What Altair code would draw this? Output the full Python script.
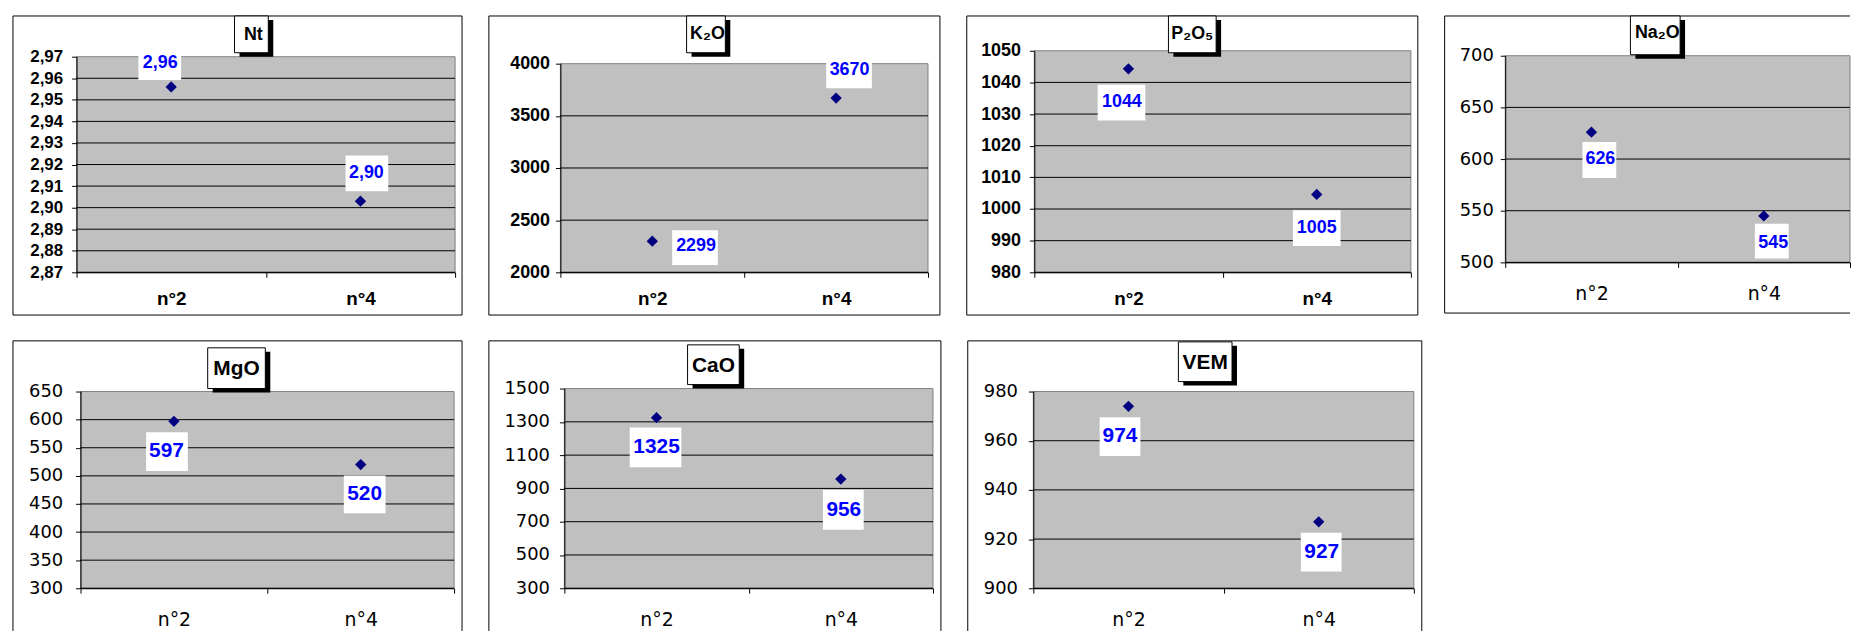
import altair as alt
import pandas as pd

# ---------------- data ----------------
samples = ["n°2", "n°4"]
nt = [2.956, 2.903]
k2o = [2299, 3670]
p2o5 = [1044.3, 1004.6]
na2o = [626, 545]
mgo = [597, 520]
cao = [1325, 956]
vem = [974, 927]

titles = ["Nt", "K₂O", "P₂O₅", "Na₂O", "MgO", "CaO", "VEM"]

nt_ticks = [2.87, 2.88, 2.89, 2.90, 2.91, 2.92, 2.93, 2.94, 2.95, 2.96, 2.97]
k2o_ticks = [2000, 2500, 3000, 3500, 4000]
p2o5_ticks = [980, 990, 1000, 1010, 1020, 1030, 1040, 1050]
na2o_ticks = [500, 550, 600, 650, 700]
mgo_ticks = [300, 350, 400, 450, 500, 550, 600, 650]
cao_ticks = [300, 500, 700, 900, 1100, 1300, 1500]
vem_ticks = [900, 920, 940, 960, 980]

# ---------------- styles ----------------
BOLD = dict(font="Liberation Sans", weight="bold")
REG = dict(font="DejaVu Sans", weight="normal")

# W,H: plot area; L,R,T,B: distance from plot area to the outer frame
panels = [
    dict(title=titles[0], values=nt, ticks=nt_ticks, W=381, H=217, L=64, R=7, T=41, B=43,
         yfont=BOLD, yfs=17, ypad=9, xfont=BOLD, xfs=19, xpad=12.5,
         tbox=(159, 193, -41, -4), tcx=178, tby=-17, tfs=18, lfs=18, comma=True,
         labels=[(-33, 10, -35, -7, -11, -19), (-15, 28, -46, -10, 6, -23)]),
    dict(title=titles[1], values=k2o, ticks=k2o_ticks, W=370, H=210, L=72, R=12, T=48, B=43,
         yfont=BOLD, yfs=18, ypad=6, xfont=BOLD, xfs=19, xpad=12.5,
         tbox=(127, 166, -48, -11), tcx=148, tby=-25, tfs=18, lfs=18,
         labels=[(20, 66, -11, 24, 44, 10), (-10, 36, -39, -10, 13.5, -23)]),
    dict(title=titles[2], values=p2o5, ticks=p2o5_ticks, W=379, H=223, L=68, R=7, T=35, B=43,
         yfont=BOLD, yfs=18, ypad=9, xfont=BOLD, xfs=19, xpad=12.5,
         tbox=(135, 183, -35, 2), tcx=159, tby=-12, tfs=18, lfs=18,
         labels=[(-31, 17, 16, 52, -6.6, 38.7), (-24, 24, 16, 52, 0, 39)]),
    dict(title=titles[3], values=na2o, ticks=na2o_ticks, W=347, H=208, L=61, R=None, T=40, B=51,
         yfont=REG, yfs=18, ypad=7, xfont=REG, xfs=19, xpad=17.8,
         tbox=(126, 176, -40, -1), tcx=153, tby=-18, tfs=18, lfs=18,
         labels=[(-9, 25, 10, 46, 9, 32), (-9, 25, 8, 43, 9.5, 32)]),
    dict(title=titles[4], values=mgo, ticks=mgo_ticks, W=376, H=198, L=68, R=8, T=51, B=None,
         yfont=REG, yfs=18, ypad=13, xfont=REG, xfs=19, xpad=17.5,
         tbox=(128, 186, -44, -3), tcx=157, tby=-17, tfs=21, lfs=21,
         labels=[(-28, 14, 11, 50, -7.5, 36), (-17, 25, 11, 49, 4, 36)]),
    dict(title=titles[5], values=cao, ticks=cao_ticks, W=371, H=201, L=76, R=8, T=48, B=None,
         yfont=REG, yfs=18, ypad=10, xfont=REG, xfs=19, xpad=17.5,
         tbox=(124, 176, -44, -4), tcx=150, tby=-17, tfs=21, lfs=21,
         labels=[(-27, 25, 10, 50, 0, 36), (-18, 23, 11, 51, 3, 37)]),
    dict(title=titles[6], values=vem, ticks=vem_ticks, W=383, H=198, L=66, R=8, T=51, B=None,
         yfont=REG, yfs=18, ypad=11, xfont=REG, xfs=19, xpad=17.5,
         tbox=(146, 200, -50, -10), tcx=173, tby=-23, tfs=21, lfs=21,
         labels=[(-29, 12, 11, 50, -8.5, 36), (-18, 23, 11, 50, 3, 36)]),
]

one = pd.DataFrame({"k": [0]})
FRAME = "#000000"
OPEN_BOTTOM = 43  # frame continues below the visible page for the lower row


def hrule(x0, x1, y):
    return alt.Chart(one).mark_rule(color=FRAME, strokeWidth=1).encode(
        x=alt.value(x0), x2=alt.value(x1), y=alt.value(y))


def vrule(x, y0, y1):
    return alt.Chart(one).mark_rule(color=FRAME, strokeWidth=1).encode(
        x=alt.value(x), y=alt.value(y0), y2=alt.value(y1))


def make_panel(c):
    df = pd.DataFrame({"sample": samples, "value": c["values"]})
    ticks = c["ticks"]
    lo, hi = ticks[0], ticks[-1]
    W, H, L, R, T, B = c["W"], c["H"], c["L"], c["R"], c["T"], c["B"]
    Bx = B if B is not None else OPEN_BOTTOM
    GW = L + W + (R if R is not None else 0)
    GH = T + H + Bx

    yaxis_kw = dict(
        title=None, values=ticks, tickSize=5, tickColor="#000", domainColor="#000",
        domainWidth=1, grid=False, offset=-L, zindex=1,
        labelFont=c["yfont"]["font"], labelFontWeight=c["yfont"]["weight"],
        labelFontSize=c["yfs"], labelColor="#000", labelPadding=c["ypad"],
        labelOverlap=False, labelBound=False, labelFlush=False,
    )
    if c.get("comma"):
        yaxis_kw["labelExpr"] = "replace(format(datum.value, '.2f'), '.', ',')"
    else:
        yaxis_kw["format"] = "d"

    x_enc = alt.X(
        "sample:N",
        scale=alt.Scale(type="band", domain=samples, range=[L, L + W],
                        paddingInner=0, paddingOuter=0),
        axis=alt.Axis(title=None, labelAngle=0, tickBand="extent", tickSize=5,
                      tickColor="#000", domainColor="#000", domainWidth=1, grid=False,
                      offset=-Bx, zindex=1,
                      labelFont=c["xfont"]["font"], labelFontWeight=c["xfont"]["weight"],
                      labelFontSize=c["xfs"], labelColor="#000", labelPadding=c["xpad"]),
    )
    y_enc = alt.Y("value:Q",
                  scale=alt.Scale(domain=[lo, hi], range=[T + H, T], nice=False, zero=False),
                  axis=alt.Axis(**yaxis_kw))

    base = alt.Chart(df).encode(x=x_enc, y=y_enc)

    layers = []
    # outer frame of the chart object
    layers.append(hrule(0, GW, 0))
    if B is not None:
        layers.append(hrule(0, GW, GH))
    layers.append(vrule(0, 0, GH))
    if R is not None:
        layers.append(vrule(GW, 0, GH))

    # grey plot area
    layers.append(alt.Chart(one).mark_rect(fill="#C0C0C0", stroke="#808080", strokeWidth=1).encode(
        x=alt.value(L), x2=alt.value(L + W), y=alt.value(T), y2=alt.value(T + H)))

    # horizontal gridlines at the tick values (through the y scale)
    grid_df = pd.DataFrame({"value": ticks[:-1]})
    layers.append(alt.Chart(grid_df).mark_rule(color="#000000", strokeWidth=1).encode(
        y=y_enc, x=alt.value(L), x2=alt.value(L + W)))

    # white boxes behind data labels, then labels
    for s, (bx0, bx1, by0, by1, dx, dy) in zip(samples, c["labels"]):
        path = f"M{bx0},{by0}H{bx1}V{by1}H{bx0}Z"
        layers.append(
            base.transform_filter(alt.datum.sample == s).mark_point(
                shape=path, size=4, filled=True, color="#FFFFFF", strokeWidth=0, opacity=1)
        )
        if c.get("comma"):
            txt = base.transform_filter(alt.datum.sample == s).transform_calculate(
                lab="replace(format(datum.value, '.2f'), '.', ',')"
            ).mark_text(align="center", baseline="alphabetic", dx=dx, dy=dy,
                        font="Liberation Sans", fontWeight="bold", fontSize=c["lfs"],
                        color="#0000FF").encode(text="lab:N")
        else:
            txt = base.transform_filter(alt.datum.sample == s).mark_text(
                align="center", baseline="alphabetic", dx=dx, dy=dy,
                font="Liberation Sans", fontWeight="bold", fontSize=c["lfs"],
                color="#0000FF").encode(text=alt.Text("value:Q", format=".0f"))
        layers.append(txt)

    # data points
    layers.append(base.mark_point(shape="diamond", filled=True, color="#000080",
                                  size=130, opacity=1))

    # title box with shadow
    tx0, tx1, ty0, ty1 = c["tbox"]
    tx0, tx1, ty0, ty1 = tx0 + L, tx1 + L, ty0 + T, ty1 + T
    layers.append(alt.Chart(one).mark_rect(color="#000000").encode(
        x=alt.value(tx0 + 5), x2=alt.value(tx1 + 5), y=alt.value(ty0 + 4), y2=alt.value(ty1 + 4)))
    layers.append(alt.Chart(one).mark_rect(fill="#FFFFFF", stroke="#000000", strokeWidth=1).encode(
        x=alt.value(tx0), x2=alt.value(tx1), y=alt.value(ty0), y2=alt.value(ty1)))
    layers.append(alt.Chart(one).mark_text(
        align="center", baseline="alphabetic", font="Liberation Sans", fontWeight="bold",
        fontSize=c["tfs"], color="#000000").encode(
        x=alt.value(c["tcx"] + L), y=alt.value(c["tby"] + T), text=alt.value(c["title"])))

    return alt.layer(*layers).properties(width=GW, height=GH)


charts = [make_panel(c) for c in panels]
row1 = alt.hconcat(*charts[:4], spacing=25)
row2 = alt.hconcat(*charts[4:], spacing=25)

chart = alt.vconcat(row1, row2, spacing=24).properties(
    padding={"left": 4, "top": 5, "right": 0, "bottom": 0},
    background="#FFFFFF",
).configure_view(strokeWidth=0)

chart.save("out.html", embed_options={"renderer": "svg", "actions": False})
